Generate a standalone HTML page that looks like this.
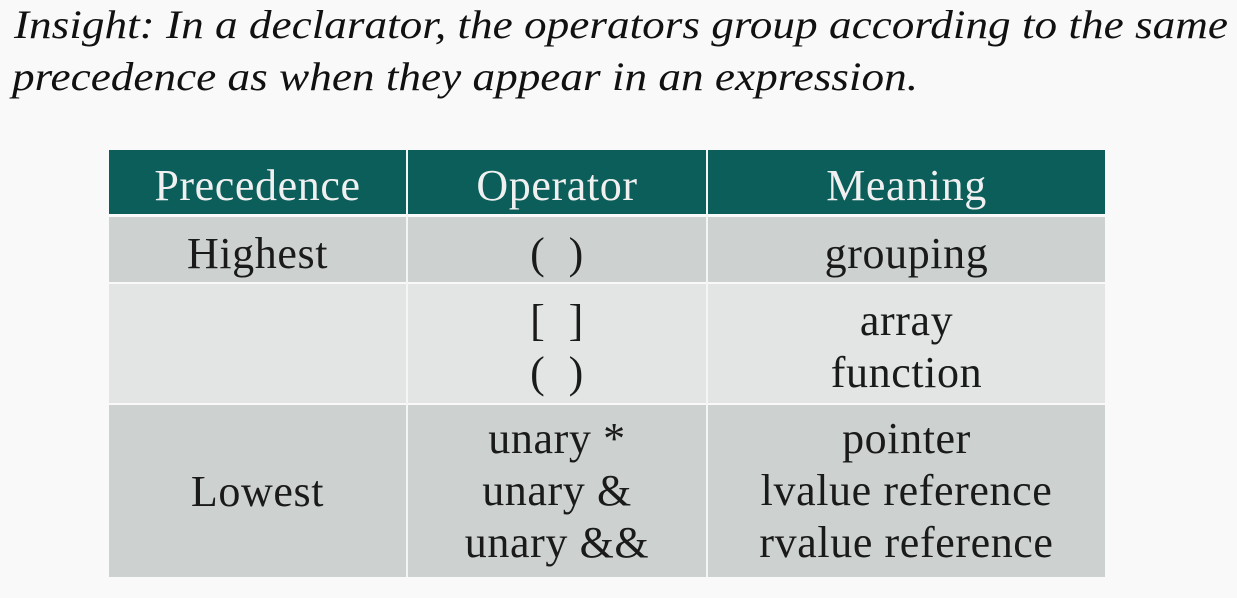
<!DOCTYPE html>
<html><head><meta charset="utf-8"><style>
body{margin:0;width:1237px;height:598px;background:#f9f9f9;overflow:hidden;position:relative;font-family:"Liberation Serif",serif;}
.t{position:absolute;left:0;top:0}
.cell{position:absolute;}
.txt{position:absolute;text-align:center;font-size:44px;color:#1a1a1a;letter-spacing:0.6px;line-height:52px}
.h{color:#f0f0f0}
</style></head><body>
<svg class="t" width="1237" height="120">
<text x="14" y="38" font-family="Liberation Serif, serif" font-style="italic" font-size="40" fill="#111" textLength="1214" lengthAdjust="spacingAndGlyphs">Insight: In a declarator, the operators group according to the same</text>
<text x="12" y="90" font-family="Liberation Serif, serif" font-style="italic" font-size="40" fill="#111" textLength="906" lengthAdjust="spacingAndGlyphs">precedence as when they appear in an expression.</text>
</svg>
<div>
<div class="cell" style="left:109px;top:150px;width:996px;height:64px;background:#0b5e5a"></div>
<div class="cell" style="left:109px;top:217px;width:996px;height:65px;background:#cdd2d1"></div>
<div class="cell" style="left:109px;top:284px;width:996px;height:119px;background:#e2e5e4"></div>
<div class="cell" style="left:109px;top:405px;width:996px;height:172px;background:#cdd2d1"></div>
<div class="cell" style="left:406px;top:150px;width:2px;height:427px;background:#f4f6f6"></div>
<div class="cell" style="left:706px;top:150px;width:2px;height:427px;background:#f4f6f6"></div>

<div class="txt h" style="left:109px;top:160px;width:297px">Precedence</div>
<div class="txt h" style="left:408px;top:160px;width:298px">Operator</div>
<div class="txt h" style="left:708px;top:160px;width:397px">Meaning</div>

<div class="txt" style="left:109px;top:228px;width:297px">Highest</div>
<div class="txt" style="left:408px;top:228px;width:298px">( &nbsp;)</div>
<div class="txt" style="left:708px;top:228px;width:397px">grouping</div>

<div class="txt" style="left:408px;top:295px;width:298px">[ &nbsp;]<br>( &nbsp;)</div>
<div class="txt" style="left:708px;top:295px;width:397px">array<br>function</div>

<div class="txt" style="left:109px;top:466px;width:297px">Lowest</div>
<div class="txt" style="left:408px;top:413px;width:298px">unary *<br>unary &amp;<br>unary &amp;&amp;</div>
<div class="txt" style="left:708px;top:413px;width:397px">pointer<br>lvalue reference<br>rvalue reference</div>
</div>
</body></html>
